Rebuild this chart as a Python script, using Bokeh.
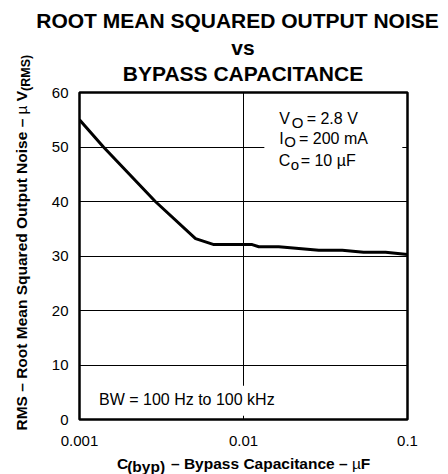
import math
from bokeh.plotting import figure
from bokeh.models import Range1d, FixedTicker, Label, BoxAnnotation
from bokeh.layouts import row, column
from bokeh.embed import file_html
from bokeh.resources import INLINE

# ---- data ----
cap_uF = [0.001, 0.0014, 0.0029, 0.0051, 0.0066, 0.0113, 0.0124, 0.0164, 0.0288, 0.040, 0.054, 0.0735, 0.1]
noise_uV = [55.0, 50.0, 40.0, 33.2, 32.1, 32.1, 31.7, 31.7, 31.06, 31.06, 30.7, 30.7, 30.27]
x_ticks = [0.001, 0.01, 0.1]
x_tick_labels = ["0.001", "0.01", "0.1"]
y_ticks = [0, 10, 20, 30, 40, 50, 60]

title_lines = ["ROOT MEAN SQUARED OUTPUT NOISE", "vs", "BYPASS CAPACITANCE"]

FONT = "Liberation Sans"
W, H = 448, 474
LW = 34            # width of the strip that holds the y-axis title
TH = 84            # height of the title strip
BH = 22            # height of the x-axis-title strip
MH = H - TH - BH   # height of the main chart
BASE_FIX = 0.3     # label baseline correction (fraction of font size)


def no_align(f):
    try:
        f.frame_align = False
    except Exception:
        pass


def text_fig(w, h):
    f = figure(frame_width=w, frame_height=h, x_range=Range1d(0, w), y_range=Range1d(0, h),
               x_axis_location=None, y_axis_location=None,
               output_backend="svg", toolbar_location=None, min_border=0)
    f.outline_line_color = None
    f.grid.visible = False
    f.background_fill_color = "white"
    f.border_fill_color = "white"
    no_align(f)
    return f


def lab(f, text, x, y, size, bold=False, align="left", angle=0.0, xo=0, yo=0):
    # move the text so that its alphabetic baseline sits on (x, y)
    fix = BASE_FIX * size
    xo = xo - fix * math.sin(angle)
    yo = yo + fix * math.cos(angle)
    f.add_layout(Label(x=x, y=y, x_offset=xo, y_offset=yo, text=text,
                       text_font=FONT, text_font_size=f"{size}px",
                       text_font_style="bold" if bold else "normal",
                       text_align=align, text_baseline="alphabetic",
                       angle=angle, text_color="black"))


# ---------------- main chart ----------------
p = figure(width=W - LW, height=MH, x_axis_type="log",
           x_range=Range1d(0.001, 0.1), y_range=Range1d(0, 60),
           output_backend="svg", toolbar_location=None,
           min_border_left=79 - LW, min_border_right=41,
           min_border_top=8, min_border_bottom=33)
no_align(p)
p.background_fill_color = "white"
p.border_fill_color = "white"
p.outline_line_color = "black"
p.outline_line_width = 2.5

p.xaxis.ticker = FixedTicker(ticks=x_ticks)
p.xaxis.major_label_overrides = dict(zip(x_ticks, x_tick_labels))
p.yaxis.ticker = FixedTicker(ticks=y_ticks)
for ax in (p.xaxis[0], p.yaxis[0]):
    ax.axis_line_color = None
    ax.major_tick_line_color = None
    ax.minor_tick_line_color = None
    ax.major_label_text_font = FONT
    ax.major_label_text_font_size = "15px"
    ax.major_label_text_color = "black"
p.xaxis.major_label_standoff = 10
p.yaxis.major_label_standoff = 5

p.xgrid.grid_line_color = "black"
p.xgrid.grid_line_width = 1
p.ygrid.grid_line_color = "black"
p.ygrid.grid_line_width = 1

p.line(cap_uF, noise_uV, line_color="black", line_width=3)

# white boxes behind the in-plot notes
p.add_layout(BoxAnnotation(left=0.0134, right=0.093, bottom=45.0, top=58.0,
                           fill_color="white", fill_alpha=1, line_color=None))
p.add_layout(BoxAnnotation(left=0.0012, right=0.022, bottom=0.7, top=6.2,
                           fill_color="white", fill_alpha=1, line_color=None))

ax_ = 0.0165
lab(p, "V", ax_, 54.3, 16)
lab(p, "O", ax_, 54.3, 15, xo=12.7, yo=-3.4)
lab(p, "= 2.8 V", ax_, 54.3, 16, xo=27.5)
lab(p, "I", ax_, 50.75, 16)
lab(p, "O", ax_, 50.75, 15, xo=5.0, yo=-3.4)
lab(p, "= 200 mA", ax_, 50.75, 16, xo=19.8)
lab(p, "C", ax_, 46.66, 16, xo=-0.5)
lab(p, "o", ax_, 46.66, 15, xo=11.5, yo=-3.4)
lab(p, "= 10 \u00b5F", ax_, 46.66, 16, xo=21.5)
lab(p, "BW = 100 Hz to 100 kHz", 0.001, 0, 16, xo=19.5, yo=15.3)

# ---------------- title strip ----------------
t = text_fig(W - LW, TH)
# page coords -> strip coords: x - LW, TH - y
for line, cx, base in zip(title_lines, [237.0, 242.5, 242.5], [26.0, 53.0, 79.3]):
    lab(t, line, cx - LW, TH - base, 21, True, "center")

# ---------------- x-axis title strip ----------------
b = text_fig(W - LW, BH)
# page coords -> strip coords: x - LW, H - y
lab(b, "C", 116.6 - LW, H - 467.5, 15.5, True)
lab(b, "(byp)", 126.7 - LW, H - 470.3, 15.5, True)
lab(b, "\u2013 Bypass Capacitance \u2013", 170.5 - LW, H - 467.5, 15.5, True)
lab(b, "\u00b5", 351.4 - LW, H - 467.5, 15.5)
lab(b, "F", 360.3 - LW, H - 467.5, 15.5, True)

# ---------------- y-axis title strip ----------------
l = text_fig(LW, H)
ang = math.pi / 2
y0 = H - 430.0   # start of the rotated text (page y 430)
lab(l, "RMS \u2013 Root Mean Squared Output Noise \u2013", 25.5, y0, 15.5, True, angle=ang)
lab(l, "\u00b5", 25.5, y0 + 316.1, 15.5, angle=ang)
lab(l, "V", 25.5, y0 + 329.3, 15.5, True, angle=ang)
lab(l, "(RMS)", 29.0, y0 + 339.6, 12.5, True, angle=ang)

layout = row(l, column(t, p, b))
open("out.html", "w").write(file_html(layout, INLINE))
